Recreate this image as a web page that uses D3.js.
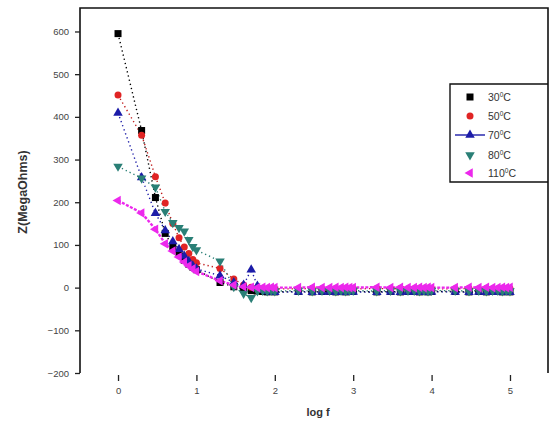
<!DOCTYPE html>
<html>
<head>
<meta charset="utf-8">
<script src="https://cdn.jsdelivr.net/npm/d3@7"></script>
<style>
  html, body { margin: 0; padding: 0; background: #fff; }
  svg { display: block; }
  text { font-family: Arial, "Liberation Sans", sans-serif; }
</style>
</head>
<body>
<svg id="chart" width="551" height="428"></svg>
<script>
// Measurement frequencies (Hz); the x axis shows log10 of these
const freq = [1,2,3,4,5,6,7,8,9,10,
  20,30,40,50,60,70,80,90,100,
  200,300,400,500,600,700,800,900,1000,
  2000,3000,4000,5000,6000,7000,8000,9000,10000,
  20000,30000,40000,50000,60000,70000,80000,90000,100000];

// Impedance Z (MegaOhms) at each temperature
const z30 = [595,368,211,127,95,78,64,55,48,42,
  12,2,-4,-7,-8,-9,-10,-9,-10,
  -9,-10,-9,-9,-10,-9,-10,-9,-9,
  -10,-9,-10,-9,-9,-10,-9,-10,-9,
  -9,-10,-9,-10,-9,-9,-10,-9,-10];
const z50 = [451,357,260,198,150,117,95,80,66,58,
  45,20,6,1,-1,-2,-3,-2,-3,
  -3,-2,-3,-3,-2,-3,-2,-3,-3,
  -2,-3,-2,-3,-3,-2,-3,-2,-3,
  -3,-2,-3,-2,-3,-3,-2,-3,-2];
const z70 = [409,258,174,134,108,90,74,62,51,44,
  28,12,6,42,4,-6,-9,-10,-11,
  -10,-11,-10,-10,-11,-10,-11,-10,-10,
  -11,-10,-11,-10,-10,-11,-10,-11,-10,
  -10,-11,-10,-11,-10,-10,-11,-10,-11];
const z80 = [284,256,235,178,152,140,132,112,96,88,
  62,2,-14,-24,-8,-7,-8,-7,-8,
  -7,-8,-7,-7,-8,-7,-8,-7,-7,
  -8,-7,-8,-7,-7,-8,-7,-8,-7,
  -7,-8,-7,-8,-7,-7,-8,-7,-8];
const z110 = [204,175,137,103,86,72,60,51,44,38,
  16,6,2,1,0,1,0,1,0,
  0,1,0,0,1,0,1,0,0,
  1,0,1,0,0,1,0,1,0,
  0,1,0,1,0,0,1,0,1];

const seriesNames = ["30", "50", "70", "80", "110"];
const seriesValues = [z30, z50, z70, z80, z110];
const seriesColors = ["#000000", "#e02424", "#1c1ca8", "#2a7f76", "#ec28ec"];
const lineColors = ["#000000", "#c01c1c", "#1c1ca8", "#2a7f76", "#ec28ec"];
const seriesShapes = ["square", "circle", "up", "down", "left"];

const xTicks = [0, 1, 2, 3, 4, 5];
const yTicks = [600, 500, 400, 300, 200, 100, 0, -100, -200];

const svg = d3.select("#chart");
const plotL = 80, plotR = 548, plotT = 8, plotB = 373;

const x = d3.scaleLinear().domain([-0.485, 5.485]).range([plotL, plotR]);
const y = d3.scaleLinear().domain([-200, 655]).range([plotB, plotT]);

// Frame: top, left and right edges
svg.append("path")
  .attr("d", `M${plotL},${plotB}V${plotT}H${plotR}V${plotB}`)
  .attr("fill", "none").attr("stroke", "#111").attr("stroke-width", 1.6);

// Y axis
const yAxis = svg.append("g").attr("transform", `translate(${plotL},0)`)
  .call(d3.axisLeft(y).tickValues(yTicks).tickSize(5).tickPadding(6).tickFormat(d3.format("d")));
yAxis.select(".domain").remove();
yAxis.selectAll("line").attr("stroke", "#222").attr("stroke-width", 1.3);
yAxis.selectAll("text").attr("font-size", 9.5).attr("fill", "#444");

// X axis (ticks and labels below the plot area, no baseline)
const xAxis = svg.append("g").attr("transform", `translate(0,${plotB + 8})`)
  .call(d3.axisBottom(x).tickValues(xTicks).tickSize(-6).tickPadding(4).tickFormat(d3.format("d")));
xAxis.select(".domain").remove();
xAxis.selectAll("line").attr("stroke", "#222").attr("stroke-width", 1.3);
xAxis.selectAll("text").attr("font-size", 9.5).attr("fill", "#444").attr("dy", "0.9em");

// Axis titles
svg.append("text").attr("x", (plotL + plotR) / 2 + 4).attr("y", 416)
  .attr("text-anchor", "middle").attr("font-size", 11).attr("font-weight", "bold")
  .attr("fill", "#333").text("log f");
svg.append("text").attr("transform", "translate(27,192) rotate(-90)")
  .attr("text-anchor", "middle").attr("font-size", 12.5).attr("font-weight", "bold")
  .attr("fill", "#333").text("Z(MegaOhms)");

// Marker generator
function marker(sel, shape, color, size) {
  if (shape === "square") {
    sel.append("rect").attr("x", -size / 2).attr("y", -size / 2)
      .attr("width", size).attr("height", size).attr("fill", color);
  } else if (shape === "circle") {
    sel.append("circle").attr("r", size / 2).attr("fill", color);
  } else {
    const rot = shape === "up" ? 0 : shape === "down" ? 180 : -90;
    sel.append("path")
      .attr("d", d3.symbol(d3.symbolTriangle, size * size * 0.8)())
      .attr("transform", `rotate(${rot})`).attr("fill", color);
  }
}

const line = d3.line().x((d, i) => x(Math.log10(freq[i]))).y(d => y(d));

// Connecting lines: dotted, the 110 °C trace drawn heavier
seriesValues.forEach((vals, s) => {
  const last = s === seriesValues.length - 1;
  svg.append("path").datum(vals)
    .attr("d", line)
    .attr("fill", "none")
    .attr("stroke", lineColors[s])
    .attr("stroke-width", last ? 2.4 : 1.4)
    .attr("stroke-dasharray", last ? "3,1.5" : "1.3,3");
});

seriesValues.forEach((vals, s) => {
  svg.append("g").selectAll("g").data(vals).join("g")
    .attr("transform", (d, i) => `translate(${x(Math.log10(freq[i]))},${y(d)})`)
    .each(function () { marker(d3.select(this), seriesShapes[s], seriesColors[s], 7); });
});

// Legend
const lg = { x0: 450, x1: plotR, y0: 84, y1: 182 };
svg.append("path")
  .attr("d", `M${lg.x1},${lg.y0}H${lg.x0}V${lg.y1}H${lg.x1}`)
  .attr("fill", "none").attr("stroke", "#111").attr("stroke-width", 1.4);

const rowY = [97, 116, 135, 155, 173];
seriesNames.forEach((name, s) => {
  const g = svg.append("g").attr("transform", `translate(470,${rowY[s]})`);
  if (s === 2) {
    g.append("line").attr("x1", -15).attr("x2", 15)
      .attr("stroke", seriesColors[s]).attr("stroke-width", 1.4);
  }
  marker(g, seriesShapes[s], seriesColors[s], 7);
  const t = svg.append("text").attr("x", 488).attr("y", rowY[s] + 3.5)
    .attr("font-size", 10.5).attr("fill", "#333");
  t.append("tspan").text(name);
  t.append("tspan").attr("font-size", 6.5).attr("dy", -4).text("0");
  t.append("tspan").attr("dy", 4).text("C");
});
</script>
</body>
</html>
